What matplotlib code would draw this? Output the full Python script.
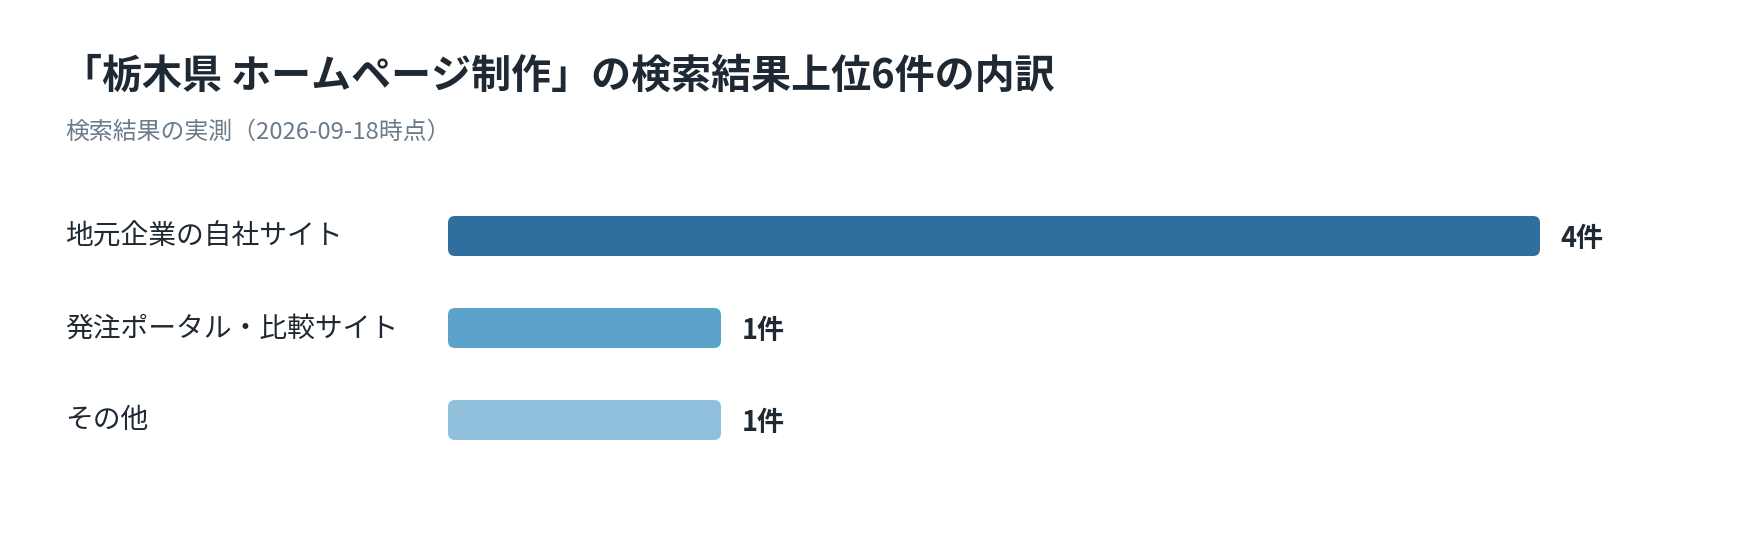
import matplotlib
matplotlib.use("Agg")
import matplotlib.pyplot as plt
from matplotlib.patches import FancyBboxPatch
from matplotlib.transforms import blended_transform_factory

plt.rcParams['font.family'] = ['Noto Sans CJK JP', 'DejaVu Sans']

title = "「栃木県 ホームページ制作」の検索結果上位6件の内訳"
subtitle = "検索結果の実測（2026-09-18時点）"
categories = ["地元企業の自社サイト", "発注ポータル・比較サイト", "その他"]
counts = [4, 1, 1]
value_labels = ["4件", "1件", "1件"]
colors = ["#2e6f9e", "#5ba3cb", "#91c0dc"]

W, H = 1760, 540
fig = plt.figure(figsize=(W / 100, H / 100), dpi=100)
fig.patch.set_facecolor("white")

# axes area in pixels: x 448..1540, y 190..466 from top
ax = fig.add_axes([448 / W, 1 - 466 / H, (1540 - 448) / W, (466 - 190) / H])
ax.set_xlim(0, 4)
ax.set_ylim(2.5, -0.5)
ax.axis("off")

bars = ax.barh(range(len(categories)), counts, height=0.435, color="none")
for b, c in zip(bars, colors):
    x0, y0 = b.get_x(), b.get_y()
    w, h = b.get_width(), b.get_height()
    # rounded corners: radius in pixels converted via mutation_aspect
    px_x = ax.transData.transform((1, 0))[0] - ax.transData.transform((0, 0))[0]
    px_y = abs(ax.transData.transform((0, 1))[1] - ax.transData.transform((0, 0))[1])
    r = 7 / px_x
    patch = FancyBboxPatch((x0 + r, y0 + r * px_x / px_y), w - 2 * r, h - 2 * r * px_x / px_y,
                           boxstyle=f"round,pad={r},rounding_size={r}",
                           mutation_aspect=px_x / px_y,
                           facecolor=c, edgecolor="none")
    ax.add_patch(patch)

trans = blended_transform_factory(fig.transFigure, ax.transData)
for i, cat in enumerate(categories):
    ax.text(65 / W, i + 0.005, cat, transform=trans, ha="left", va="center",
            fontsize=20, color="#1f2933")

for i, (v, lab) in enumerate(zip(counts, value_labels)):
    ax.annotate(lab, (v, i), xytext=(15, -2), textcoords="offset points",
                ha="left", va="center", fontsize=19.5, fontweight="bold",
                color="#1f2933", annotation_clip=False)

fig.text(62 / W, 1 - 76 / H, title, ha="left", va="center", fontsize=28.8,
         fontweight="bold", color="#1f2933")
fig.text(65 / W, 1 - 132 / H, subtitle, ha="left", va="center", fontsize=17.2,
         color="#6b7b8c")

fig.savefig("out.png", dpi=100, facecolor="white")
